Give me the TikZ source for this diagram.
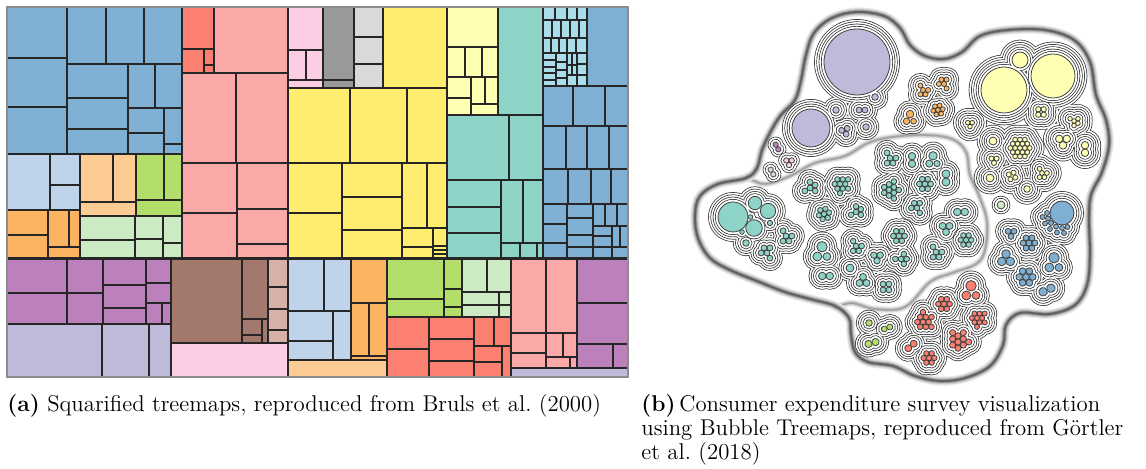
\documentclass[tikz,border=0pt]{standalone}
\usepackage{fontspec}
\usepackage{tikz}
\usetikzlibrary{positioning,calc}

% treemap colours
\definecolor{tmBlue}{HTML}{7FAFD3}
\definecolor{tmLBlue}{HTML}{BFD3EA}
\definecolor{tmPeach}{HTML}{FDCC92}
\definecolor{tmGreen}{HTML}{B3DE69}
\definecolor{tmOrange}{HTML}{FDB462}
\definecolor{tmLGreen}{HTML}{CCEBC5}
\definecolor{tmRed}{HTML}{FB8072}
\definecolor{tmPink}{HTML}{FBA9A8}
\definecolor{tmLPink}{HTML}{FCCDE5}
\definecolor{tmGray}{HTML}{999999}
\definecolor{tmLGray}{HTML}{D9D9D9}
\definecolor{tmYellow}{HTML}{FFED6F}
\definecolor{tmLYellow}{HTML}{FFFFB3}
\definecolor{tmTeal}{HTML}{8DD3C7}
\definecolor{tmCyan}{HTML}{A9DDEA}
\definecolor{tmPurple}{HTML}{BC80BD}
\definecolor{tmLavender}{HTML}{BEBADA}
\definecolor{tmBrown}{HTML}{A3796E}
\definecolor{tmLBrown}{HTML}{D5B1A8}

\tikzset{
  tmcell/.style={draw=black!85, line width=0.8pt},
  bubring/.style={draw=black!85, line width=0.7pt},
  bubleaf/.style={draw=black!75, line width=0.4pt},
  caption/.style={anchor=base west, inner sep=0pt, font=\fontsize{11.4}{12.25}\selectfont},
}

% bubble patterns: dx/dy/r
\def\patA{0/0/3.3}
\def\patB{-2.7/0/2.7, 2.7/0/2.7}
\def\patC{-2.7/-1.56/2.7, 2.7/-1.56/2.7, 0/3.12/2.7}
\def\patD{-2.7/-2.7/2.7, 2.7/-2.7/2.7, -2.7/2.7/2.7, 2.7/2.7/2.7}
\def\patE{0/0/2.7, 5.4/0/2.7, -2.7/4.68/2.7, 2.7/4.68/2.7, -2.7/-4.68/2.7}
\def\patF{0/0/2.7, 5.4/0/2.7, -5.4/0/2.7, 2.7/4.68/2.7, -2.7/4.68/2.7, 2.7/-4.68/2.7, -2.7/-4.68/2.7}
\def\patG{0/0/2.7, 5.4/0/2.7, -5.4/0/2.7, 2.7/4.68/2.7, -2.7/4.68/2.7, 2.7/-4.68/2.7, -2.7/-4.68/2.7, 8.1/4.68/2.7, 8.1/-4.68/2.7, 0/9.36/2.7}
\def\patH{0/0/2.7, 5.4/0/2.7, -5.4/0/2.7, 2.7/4.68/2.7, -2.7/4.68/2.7, 2.7/-4.68/2.7, -2.7/-4.68/2.7, 10.8/0/2.7, -10.8/0/2.7, 5.4/9.36/2.7, -5.4/9.36/2.7, 5.4/-9.36/2.7, -5.4/-9.36/2.7, 8.1/4.68/2.7, -8.1/4.68/2.7, 8.1/-4.68/2.7, -8.1/-4.68/2.7, 0/9.36/2.7, 0/-9.36/2.7}
\def\patK{0/-3.5/3.5, -3.1/3/3, 3.3/3/2.6}
\def\lavBig{0/0/33, 18/35/3.3}
\def\lavMid{0/0/19}
\def\yelBig{0/0/23, 49/-14/22, 16/-30/8}
\def\tealBig{0/0/15, 22/-14/6.7, 35/-6/7.7, 21/11/8.3, 17.5/0/2.3, 37/6/2.7, 9/15/2.3, 13/26/3.3}
\def\blueBig{0/0/12, -15/0/2.5, -14/5.5/2.5, -11/10/2.5, -6/13.6/2.5, 0/15/2.5, 5.5/14/2.5, -19.5/4/2.5, -17/10.5/2.5, -12/16/2.5, -5/19.5/2.5, 2/20/2.5}

% clusters: x/y/pattern/rotation/scale
\def\lavList{857/62/\lavBig/0/1, 811/128/\lavMid/0/1, 862/110/\patB/0/1.1, 866/127/\patA/0/1, 836/110/\patA/0/1, 845/131/\patC/20/1.1}
\def\oraList{923/90/\patE/0/0.95, 944/84/\patE/180/0.95, 938/110/\patF/10/0.9, 910/118/\patK/0/1.1}
\def\yelA{1004/90/\yelBig/0/1, 1041/112/\patD/0/1}
\def\yelB{970/124/\patC/0/0.85}
\def\yelC{1020/148/\patH/0/0.9, 993/141/\patA/0/1.2, 994/160/\patC/0/0.95, 990/178/\patA/0/1.2, 1012/176/\patD/20/0.95, 1027/189/\patA/0/1, 1042/173/\patE/0/0.9}
\def\yelD{1074/121/\patE/30/0.85, 1063/141/\patC/0/1.4, 1085/149/\patB/90/1.4}
\edef\yelAll{\unexpanded\expandafter{\yelA}, \unexpanded\expandafter{\yelB}, \unexpanded\expandafter{\yelC}, \unexpanded\expandafter{\yelD}}
\def\tealA{733/217/\tealBig/0/1, 786/236/\patE/0/1.1, 767/253/\patE/180/1.1}
\def\tealB{810/188/\patE/90/1.1, 840/184/\patG/0/1, 824/214/\patF/15/1, 856/212/\patE/90/1.05}
\def\tealC{890/158/\patE/0/1.1, 912/160/\patB/90/1.4, 933/160/\patK/0/1.2, 889/190/\patG/30/1.05, 925/184/\patF/0/1.05, 946/178/\patB/90/1.5, 917/208/\patE/180/1.05}
\def\tealD{822/252/\patK/0/1.5, 826/276/\patB/0/1.4, 856/246/\patE/0/1.05, 877/257/\patC/0/1.2, 899/236/\patF/0/1.05, 901/259/\patE/60/1.05, 850/268/\patA/0/1.2, 863/281/\patC/180/1.3, 886/287/\patD/0/1.1}
\def\tealE{961/212/\patB/0/1.4, 946/228/\patC/0/1.3, 966/240/\patF/0/1, 936/252/\patE/0/1.1}
\def\blueList{1062/213/\blueBig/0/1, 1011/233/\patC/0/1.1, 1029/243/\patF/0/1.1, 1006/259/\patC/180/1.6, 1026/277/\patF/0/1.25, 1054/263/\patK/0/1.5, 1047/290/\patB/25/1.6}
\def\redList{971/291/\patK/0/1.5, 944/304/\patF/0/1.05, 977/318/\patG/0/0.95, 923/322/\patG/60/1.05, 958/342/\patG/90/1.15, 911/346/\patB/40/1.3, 929/358/\patF/0/1}
\def\greenList{869/323/\patA/0/1, 887/328/\patB/20/1.1, 872/343/\patB/15/1.35}
\def\purList{777/147/\patB/-60/1}
\def\pinkList{789/162/\patC/0/1}
\def\grayList{772/172/\patB/-60/1}
\def\mintList{1001/205/\patA/0/1.2}

% one contour: stroke all circles grown by #2, then blank their inside
\newcommand{\ringpass}[2]{%
  \foreach \cx/\cy/\pat/\rot/\sca in #1 {
    \edef\curpat{\pat}
    \begin{scope}[shift={(\cx,\cy)}, rotate=\rot]
      \foreach \dx/\dy/\lr in \curpat
        \draw[bubring] (\sca*\dx, \sca*\dy) circle[radius=\sca*\lr+#2];
    \end{scope}
  }
  \foreach \cx/\cy/\pat/\rot/\sca in #1 {
    \edef\curpat{\pat}
    \begin{scope}[shift={(\cx,\cy)}, rotate=\rot]
      \foreach \dx/\dy/\lr in \curpat
        \fill[white] (\sca*\dx, \sca*\dy) circle[radius=\sca*\lr+#2];
    \end{scope}
  }}
\newcommand{\outerrings}[1]{\ringpass{#1}{9.2}\ringpass{#1}{6.9}}
\newcommand{\innerrings}[1]{\ringpass{#1}{4.6}\ringpass{#1}{2.3}}
\newcommand{\leafpass}[2]{%
  \foreach \cx/\cy/\pat/\rot/\sca in #1 {
    \edef\curpat{\pat}
    \begin{scope}[shift={(\cx,\cy)}, rotate=\rot]
      \foreach \dx/\dy/\lr in \curpat
        \draw[bubleaf, fill=#2] (\sca*\dx, \sca*\dy) circle[radius=\sca*\lr];
    \end{scope}
  }}

\newcommand{\rootpath}{plot[smooth cycle, tension=0.6] coordinates {(695,215) (700,196) (718,184) (746,178) (757,168) (762,150) (771,131) (781,115) (795,100) (801,80) (806,55) (814,33) (832,18) (857,12) (884,16) (900,28) (910,45) (925,56) (944,59) (962,52) (980,36) (1008,30) (1045,30) (1074,40) (1090,62) (1096,95) (1106,120) (1109,145) (1102,172) (1091,195) (1089,220) (1090,255) (1087,285) (1075,305) (1050,314) (1020,313) (1006,325) (1003,345) (990,366) (965,378) (940,381) (915,376) (893,366) (868,362) (855,352) (851,334) (849,318) (835,306) (810,299) (785,292) (757,281) (730,270) (710,258) (698,238)}}
\newcommand{\tealpath}{plot[smooth cycle, tension=0.6] coordinates {(695,215) (700,196) (718,184) (746,179) (765,184) (790,176) (815,163) (845,156) (868,143) (892,137) (925,135) (952,139) (966,152) (970,175) (980,198) (987,222) (985,250) (976,264) (952,273) (930,282) (905,307) (875,309) (852,303) (835,306) (810,299) (785,292) (757,281) (730,270) (710,258) (698,238)}}

\begin{document}
\begin{tikzpicture}[x=0.5pt, y=-0.5pt]
  \fill[white] (0,0) rectangle (1146,469);
  \useasboundingbox (0,0) rectangle (1146,469);

  % ---- (a) squarified treemap ----
  \foreach \xa/\ya/\xb/\yb in {7/7/67/58, 7/58/67/107, 7/107/67/154, 67/7/106/64, 106/7/144/64, 144/7/182/64, 67/64/128/98, 67/98/128/129, 67/129/128/154, 128/64/155/108, 155/64/182/108, 128/108/164/133, 128/133/164/154, 164/108/182/144, 164/144/182/154, 587/7/628/86, 543/86/573/126, 573/86/605/126, 605/86/628/126, 543/126/566/169, 566/126/587/169, 587/126/609/169, 609/126/628/169, 543/169/568/204, 568/169/591/204, 591/169/611/204, 611/169/628/204, 543/204/567/224, 543/224/567/243, 543/243/567/258, 567/204/593/218, 567/218/593/235, 567/235/593/247, 567/247/593/258, 593/204/605/226, 605/204/617/226, 617/204/628/226, 593/226/612/236, 593/236/612/247, 593/247/612/258, 612/226/620/247, 620/226/628/247, 612/247/628/258}
    \draw[tmcell, fill=tmBlue] (\xa,\ya) rectangle (\xb,\yb);
  \foreach \xa/\ya/\xb/\yb in {7/154/50/210, 50/154/80/185, 50/185/80/210, 288/259/324/311, 324/259/351/311, 288/311/333/341, 288/341/333/360, 333/311/351/360}
    \draw[tmcell, fill=tmLBlue] (\xa,\ya) rectangle (\xb,\yb);
  \foreach \xa/\ya/\xb/\yb in {80/154/113/202, 113/154/136/202, 80/202/136/216, 288/360/387/377}
    \draw[tmcell, fill=tmPeach] (\xa,\ya) rectangle (\xb,\yb);
  \foreach \xa/\ya/\xb/\yb in {136/154/164/200, 164/154/182/200, 136/200/182/216, 387/259/444/299, 387/299/444/317, 444/259/462/289, 444/289/462/307, 444/307/462/317}
    \draw[tmcell, fill=tmGreen] (\xa,\ya) rectangle (\xb,\yb);
  \foreach \xa/\ya/\xb/\yb in {7/210/48/235, 7/235/48/258, 48/210/69/247, 69/210/80/247, 48/247/80/258, 351/259/387/303, 351/303/369/356, 369/303/387/356, 351/356/387/360}
    \draw[tmcell, fill=tmOrange] (\xa,\ya) rectangle (\xb,\yb);
  \foreach \xa/\ya/\xb/\yb in {80/216/135/240, 80/240/135/258, 135/216/163/239, 135/239/163/258, 163/216/182/243, 163/243/182/258, 462/259/487/292, 487/259/511/292, 462/292/499/305, 462/305/499/317, 499/292/511/305, 499/305/511/317}
    \draw[tmcell, fill=tmLGreen] (\xa,\ya) rectangle (\xb,\yb);
  \foreach \xa/\ya/\xb/\yb in {182/7/214/49, 182/49/204/73, 204/49/214/65, 204/65/214/73, 387/317/429/349, 387/349/429/377, 429/317/474/339, 429/339/474/361, 429/361/474/377, 474/317/494/346, 494/317/511/346, 474/346/502/362, 474/362/502/377, 502/346/511/377}
    \draw[tmcell, fill=tmRed] (\xa,\ya) rectangle (\xb,\yb);
  \foreach \xa/\ya/\xb/\yb in {214/7/288/73, 182/73/236/163, 236/73/288/163, 182/163/237/213, 182/213/237/258, 237/163/288/209, 237/209/288/244, 237/244/288/258, 511/259/546/333, 546/259/577/333, 511/333/546/353, 511/353/546/368, 546/333/563/357, 563/333/577/357, 546/357/570/368, 570/357/577/368}
    \draw[tmcell, fill=tmPink] (\xa,\ya) rectangle (\xb,\yb);
  \foreach \xa/\ya/\xb/\yb in {288/7/323/50, 288/50/306/80, 306/50/323/80, 288/80/323/88, 171/343/288/377}
    \draw[tmcell, fill=tmLPink] (\xa,\ya) rectangle (\xb,\yb);
  \foreach \xa/\ya/\xb/\yb in {323/7/354/80, 323/80/354/88}
    \draw[tmcell, fill=tmGray] (\xa,\ya) rectangle (\xb,\yb);
  \foreach \xa/\ya/\xb/\yb in {354/7/383/37, 354/37/383/64, 354/64/383/88}
    \draw[tmcell, fill=tmLGray] (\xa,\ya) rectangle (\xb,\yb);
  \foreach \xa/\ya/\xb/\yb in {383/7/447/88, 288/88/350/163, 350/88/407/163, 407/88/447/163, 288/163/342/213, 288/213/342/258, 342/163/402/197, 342/197/402/230, 342/230/402/258, 402/163/427/228, 427/163/447/228, 402/228/433/247, 402/247/433/258, 433/228/447/246, 433/246/447/250, 433/250/447/254, 433/254/447/258}
    \draw[tmcell, fill=tmYellow] (\xa,\ya) rectangle (\xb,\yb);
  \foreach \xa/\ya/\xb/\yb in {447/7/498/47, 447/47/465/77, 465/47/482/77, 482/47/498/77, 447/77/471/98, 447/98/471/115, 471/77/485/104, 485/77/498/104, 471/104/498/115}
    \draw[tmcell, fill=tmLYellow] (\xa,\ya) rectangle (\xb,\yb);
  \foreach \xa/\ya/\xb/\yb in {498/7/543/115, 447/115/509/180, 509/115/543/180, 447/180/501/207, 447/207/501/233, 447/233/501/258, 501/180/523/243, 523/180/543/243, 501/243/520/258, 520/243/537/258, 537/243/543/258}
    \draw[tmcell, fill=tmTeal] (\xa,\ya) rectangle (\xb,\yb);
  \foreach \xa/\ya/\xb/\yb in {543/7/555/20, 555/7/567/20, 567/7/577/20, 577/7/587/20, 543/20/552/38, 552/20/561/38, 561/20/570/38, 570/20/579/38, 579/20/587/38, 543/38/551/53, 551/38/559/53, 559/38/567/53, 567/38/576/53, 576/38/587/53, 543/53/556/60, 543/60/556/67, 543/67/556/73, 543/73/556/80, 543/80/556/86, 556/53/567/62, 556/62/567/70, 556/70/567/78, 556/78/567/86, 567/53/572/65, 572/53/577/65, 567/65/572/75, 572/65/577/75, 567/75/577/86, 577/53/587/64, 577/64/587/75, 577/75/587/86}
    \draw[tmcell, fill=tmCyan] (\xa,\ya) rectangle (\xb,\yb);
  \foreach \xa/\ya/\xb/\yb in {7/259/67/293, 67/259/103/293, 7/293/67/324, 67/293/103/324, 103/259/146/285, 103/285/146/308, 103/308/146/324, 146/259/171/283, 146/283/171/303, 146/303/162/324, 162/303/171/324, 577/259/628/303, 577/303/628/344, 577/344/613/368, 613/344/628/368}
    \draw[tmcell, fill=tmPurple] (\xa,\ya) rectangle (\xb,\yb);
  \foreach \xa/\ya/\xb/\yb in {7/324/102/377, 102/324/149/377, 149/324/171/377, 511/368/628/377}
    \draw[tmcell, fill=tmLavender] (\xa,\ya) rectangle (\xb,\yb);
  \foreach \xa/\ya/\xb/\yb in {171/259/242/343, 242/259/268/319, 242/319/262/335, 242/335/262/343, 262/319/268/343}
    \draw[tmcell, fill=tmBrown] (\xa,\ya) rectangle (\xb,\yb);
  \foreach \xa/\ya/\xb/\yb in {268/259/288/287, 268/287/288/309, 268/309/288/330, 268/330/288/343}
    \draw[tmcell, fill=tmLBrown] (\xa,\ya) rectangle (\xb,\yb);
  \draw[black!45, line width=1pt] (7,7) rectangle (628,377); % frame

  % ---- (b) bubble treemap ----
  % blurred outlines
  \foreach \w/\g in {3.4/7, 2.4/14, 1.5/24, 0.8/36}
    \draw[line width=\w pt, black!\g, line join=round] \tealpath;
  \foreach \w/\g in {4.6/8, 3.6/16, 2.6/28, 1.7/45, 0.9/62}
    \draw[line width=\w pt, black!\g, line join=round] \rootpath;

  % outer contours
  \ringpass{\yelAll}{11.6}
  \outerrings{\lavList}
  \outerrings{\oraList}
  \outerrings{\yelA}
  \outerrings{\yelB}
  \outerrings{\yelC}
  \outerrings{\yelD}
  \outerrings{\tealA}
  \outerrings{\tealB}
  \outerrings{\tealC}
  \outerrings{\tealD}
  \outerrings{\tealE}
  \outerrings{\blueList}
  \outerrings{\redList}
  \outerrings{\greenList}
  % inner contours
  \innerrings{\lavList}
  \innerrings{\oraList}
  \innerrings{\yelAll}
  \innerrings{\tealA}
  \innerrings{\tealB}
  \innerrings{\tealC}
  \innerrings{\tealD}
  \innerrings{\tealE}
  \innerrings{\blueList}
  \innerrings{\redList}
  \innerrings{\greenList}
  \innerrings{\purList}
  \innerrings{\pinkList}
  \innerrings{\grayList}
  \innerrings{\mintList}

  % bubbles
  \leafpass{\lavList}{tmLavender}
  \leafpass{\oraList}{tmOrange}
  \leafpass{\yelAll}{tmLYellow}
  \leafpass{\tealA}{tmTeal}
  \leafpass{\tealB}{tmTeal}
  \leafpass{\tealC}{tmTeal}
  \leafpass{\tealD}{tmTeal}
  \leafpass{\tealE}{tmTeal}
  \leafpass{\blueList}{tmBlue}
  \leafpass{\redList}{tmRed}
  \leafpass{\greenList}{tmGreen}
  \leafpass{\purList}{tmPurple}
  \leafpass{\pinkList}{tmLPink}
  \leafpass{\grayList}{tmLGray}
  \leafpass{\mintList}{tmLGreen}

  % captions
  \node[caption] (capA) at (7,412) {\textbf{(a)} Squarified treemaps, reproduced from Bruls et al.\ (2000)};
  \node[caption] (capB1) at (641,412) {\textbf{(b)}\,Consumer expenditure survey visualization};
  \node[caption] (capB2) at (641,436) {using Bubble Treemaps, reproduced from Görtler};
  \node[caption] (capB3) at (641,460) {et al.\ (2018)};
\end{tikzpicture}
\end{document}
